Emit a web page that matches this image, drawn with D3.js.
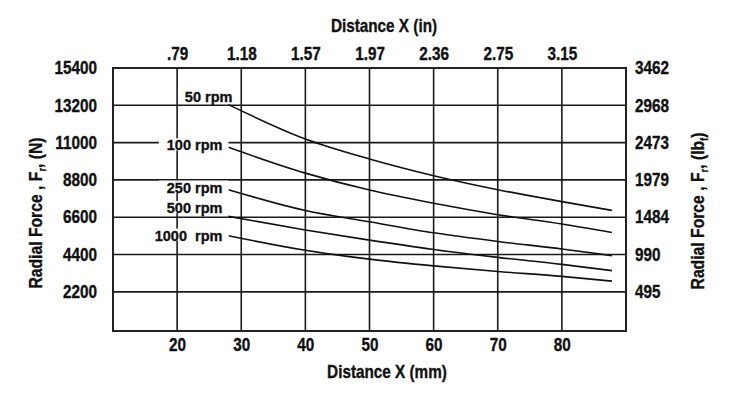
<!DOCTYPE html>
<html>
<head>
    <script type="text/javascript" src="https://d3js.org/d3.v7.min.js"></script>
    <style>
        body { margin: 0; background: #ffffff; }
        svg text {
            font-family: "Liberation Sans", Arial, sans-serif;
            font-weight: bold;
            fill: #111;
            stroke: #111;
            stroke-width: 0.35px;
        }
    </style>
</head>

<body>
    <svg></svg>

    <script>
        // distance along the shaft (mm) where each curve was read
        const distMM = [28, 40, 50, 60, 70, 80, 87.8];

        // radial force in N for each speed
        const rpm50   = [13240, 11215, 10035, 9050, 8225, 7520, 7000];
        const rpm100  = [10720, 9200, 8200, 7420, 6750, 6200, 5700];
        const rpm250  = [8225, 7000, 6330, 5680, 5170, 4730, 4335];
        const rpm500  = [6650, 5850, 5250, 4700, 4230, 3820, 3450];
        const rpm1000 = [5510, 4650, 4130, 3730, 3400, 3110, 2830];

        const seriesNames = ["50 rpm", "100 rpm", "250 rpm", "500 rpm", "1000  rpm"];

        // tick labels
        const mmTicks = [20, 30, 40, 50, 60, 70, 80];
        const inchLabels = [".79", "1.18", "1.57", "1.97", "2.36", "2.75", "3.15"];
        const newtonTicks = [2200, 4400, 6600, 8800, 11000, 13200, 15400];
        const lbfLabels = ["495", "990", "1484", "1979", "2473", "2968", "3462"];

        const W = 750, H = 394;
        const margin = {top: 68, right: 124, bottom: 63, left: 113};
        const squeeze = 0.85; // fake a condensed face

        const svg = d3.select("svg").attr("width", W).attr("height", H);

        const x = d3.scaleLinear().domain([10, 90]).range([margin.left, W - margin.right]);
        const y = d3.scaleLinear().domain([-110, 15400]).range([H - margin.bottom, margin.top]);

        // squeeze text horizontally around its own anchor
        function narrow(sel, k) {
            sel.each(function() {
                const t = d3.select(this);
                const xv = +t.attr("x") || 0;
                t.attr("x", xv / k)
                 .attr("transform", (t.attr("transform") || "") + ` scale(${k},1)`);
            });
        }

        // grid lines
        const grid = svg.append("g");
        grid.selectAll("line.v")
            .data(mmTicks)
            .enter()
            .append("line")
            .attr("x1", d => x(d)).attr("x2", d => x(d))
            .attr("y1", y.range()[1]).attr("y2", y.range()[0])
            .attr("stroke", "#1a1a1a")
            .attr("stroke-width", 1.6);
        grid.selectAll("line.h")
            .data(newtonTicks.slice(0, -1))
            .enter()
            .append("line")
            .attr("x1", x.range()[0]).attr("x2", x.range()[1])
            .attr("y1", d => y(d)).attr("y2", d => y(d))
            .attr("stroke", "#1a1a1a")
            .attr("stroke-width", 1.6);

        // frame
        svg.append("rect")
            .attr("x", x.range()[0]).attr("y", y.range()[1])
            .attr("width", x.range()[1] - x.range()[0])
            .attr("height", y.range()[0] - y.range()[1])
            .attr("fill", "none")
            .attr("stroke", "#222")
            .attr("stroke-width", 2);

        // axes (labels only, no tick marks)
        const bottomAxis = d3.axisBottom(x).tickValues(mmTicks).tickSize(0).tickPadding(7);
        const topAxis = d3.axisTop(x).tickValues(mmTicks).tickSize(0).tickPadding(8)
            .tickFormat((d, i) => inchLabels[i]);
        const leftAxis = d3.axisLeft(y).tickValues(newtonTicks).tickSize(0).tickPadding(16)
            .tickFormat(d3.format("d"));
        const rightAxis = d3.axisRight(y).tickValues(newtonTicks).tickSize(0).tickPadding(9)
            .tickFormat((d, i) => lbfLabels[i]);

        function styleAxis(g) {
            g.select(".domain").remove();
            g.attr("font-family", null).attr("font-size", null);
            g.selectAll("text").attr("font-size", 18).call(narrow, squeeze);
        }

        svg.append("g").attr("transform", `translate(0,${y.range()[0]})`).call(bottomAxis).call(styleAxis);
        svg.append("g").attr("transform", `translate(0,${y.range()[1]})`).call(topAxis).call(styleAxis);
        svg.append("g").attr("transform", `translate(${x.range()[0]},0)`).call(leftAxis).call(styleAxis);
        svg.append("g").attr("transform", `translate(${x.range()[1]},0)`).call(rightAxis).call(styleAxis);

        // curves
        const allSeries = [rpm50, rpm100, rpm250, rpm500, rpm1000];
        const line = d3.line()
            .x((d, i) => x(distMM[i]))
            .y(d => y(d))
            .curve(d3.curveMonotoneX);

        svg.append("g").selectAll("path")
            .data(allSeries)
            .enter()
            .append("path")
            .attr("d", line)
            .attr("fill", "none")
            .attr("stroke", "#111")
            .attr("stroke-width", 1.6);

        // curve labels with white backing so grid lines break around them
        const labelY = [96.7, 145.3, 187.5, 208, 235.5];
        const labels = svg.append("g");
        allSeries.forEach((s, i) => {
            const g = labels.append("g");
            const t = g.append("text")
                .attr("x", x(distMM[0]) - 6 + (i === 0 ? 10 : 0))
                .attr("y", labelY[i])
                .attr("dy", "0.35em")
                .attr("text-anchor", "end")
                .attr("font-size", 14.5)
                .style("white-space", "pre")
                .text(seriesNames[i]);
            if (i > 0) {
                const b = t.node().getBBox();
                g.insert("rect", "text")
                    .attr("x", b.x - 8).attr("y", b.y + 1)
                    .attr("width", b.width + 14).attr("height", b.height - 4)
                    .attr("fill", "#fff");
            }
        });

        // axis titles
        svg.append("text")
            .attr("x", 384).attr("y", 26).attr("dy", "0.35em")
            .attr("text-anchor", "middle").attr("font-size", 18)
            .text("Distance X (in)")
            .call(narrow, squeeze);
        svg.append("text")
            .attr("x", 387).attr("y", 372).attr("dy", "0.35em")
            .attr("text-anchor", "middle").attr("font-size", 18)
            .text("Distance X (mm)")
            .call(narrow, squeeze);

        function forceTitle(cx, cy, unit, sub) {
            const t = svg.append("text")
                .attr("transform", `translate(${cx},${cy}) rotate(-90) scale(${squeeze},1)`)
                .attr("text-anchor", "middle")
                .attr("dy", "0.35em")
                .attr("font-size", 18.5);
            t.append("tspan").text("Radial Force , F");
            t.append("tspan").attr("font-size", 11).attr("dy", 4).text("r");
            t.append("tspan").attr("dy", -4).text(", (" + unit);
            if (sub) {
                t.append("tspan").attr("font-size", 11).attr("dy", 4).text(sub);
                t.append("tspan").attr("dy", -4).text(")");
            } else {
                t.append("tspan").text(")");
            }
        }
        forceTitle(36, 213, "N", null);
        forceTitle(698, 211, "lb", "f");
    </script>
</body>
</html>
